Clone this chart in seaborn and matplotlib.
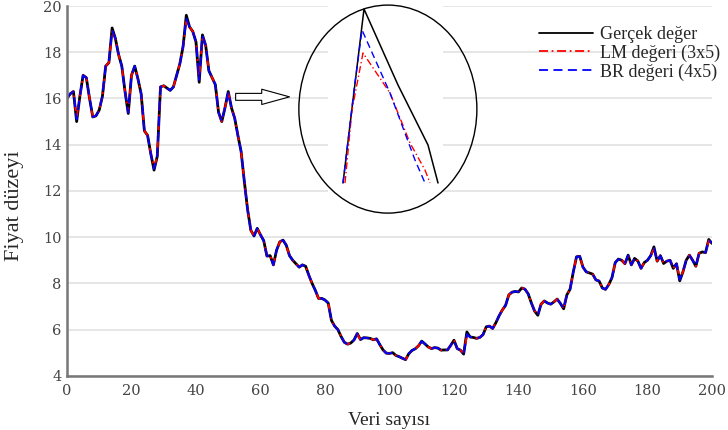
import numpy as np
import seaborn as sns
from matplotlib import pyplot as plt
from matplotlib.patches import Ellipse

veri_sayisi = np.arange(0, 201)

gercek = [16.0, 16.2, 16.3, 15.0, 16.1, 17.0, 16.9, 16.0, 15.2, 15.25,
          15.5, 16.1, 17.4, 17.55, 19.05, 18.6, 17.9, 17.4, 16.3, 15.35,
          17.0, 17.4, 16.85, 16.2, 14.6, 14.4, 13.6, 12.9, 13.5, 16.5,
          16.55, 16.45, 16.35, 16.5, 17.0, 17.5, 18.25, 19.6, 19.1, 18.9,
          18.45, 16.7, 18.75, 18.3, 17.2, 16.9, 16.6, 15.4, 15.0, 15.6,
          16.3, 15.6, 15.15, 14.4, 13.7, 12.4, 11.2, 10.3, 10.05, 10.38,
          10.1, 9.85, 9.18, 9.2, 8.8, 9.44, 9.8, 9.87, 9.65, 9.2,
          9.0, 8.85, 8.7, 8.8, 8.74, 8.35, 8.0, 7.7, 7.35, 7.35,
          7.28, 7.15, 6.4, 6.15, 6.0, 5.7, 5.45, 5.37, 5.42, 5.55,
          5.83, 5.57, 5.65, 5.64, 5.62, 5.56, 5.6, 5.35, 5.12, 4.98,
          4.97, 5.0, 4.88, 4.83, 4.76, 4.7, 4.96, 5.1, 5.17, 5.3,
          5.5, 5.38, 5.25, 5.18, 5.22, 5.2, 5.11, 5.12, 5.12, 5.32,
          5.54, 5.18, 5.11, 4.94, 5.9, 5.68, 5.66, 5.62, 5.66, 5.78,
          6.12, 6.15, 6.05, 6.3, 6.6, 6.85, 7.05, 7.5, 7.62, 7.65,
          7.63, 7.8, 7.75, 7.55, 7.15, 6.8, 6.62, 7.1, 7.24, 7.15,
          7.1, 7.2, 7.32, 7.13, 6.9, 7.5, 7.75, 8.5, 9.15, 9.17,
          8.7, 8.5, 8.45, 8.4, 8.15, 8.1, 7.8, 7.74, 7.95, 8.25,
          8.9, 9.05, 9.0, 8.85, 9.22, 8.8, 9.08, 8.97, 8.65, 8.9,
          9.0, 9.2, 9.58, 8.96, 9.2, 8.86, 8.96, 9.0, 8.65, 8.85,
          8.11, 8.5, 9.0, 9.22, 9.0, 8.74, 9.3, 9.36, 9.33, 9.9,
          9.73]

lm_degeri = [16.0, 16.2, 16.3, 15.15, 16.1, 17.0, 16.9, 16.0, 15.2, 15.25,
             15.5, 16.1, 17.4, 17.55, 18.9, 18.6, 17.9, 17.4, 16.3, 15.4,
             17.0, 17.4, 16.85, 16.2, 14.6, 14.4, 13.6, 13.0, 13.5, 16.5,
             16.55, 16.45, 16.35, 16.5, 17.0, 17.5, 18.25, 19.4, 19.1, 18.9,
             18.45, 16.85, 18.7, 18.3, 17.2, 16.9, 16.6, 15.4, 15.0, 15.6,
             16.25, 15.6, 15.15, 14.4, 13.7, 12.4, 11.2, 10.3, 10.05, 10.38,
             10.1, 9.85, 9.18, 9.2, 8.8, 9.44, 9.8, 9.87, 9.65, 9.2,
             9.0, 8.85, 8.7, 8.8, 8.74, 8.35, 8.0, 7.7, 7.35, 7.35,
             7.28, 7.15, 6.4, 6.15, 6.0, 5.7, 5.45, 5.37, 5.42, 5.55,
             5.8, 5.57, 5.65, 5.64, 5.62, 5.56, 5.6, 5.35, 5.12, 4.98,
             4.97, 5.0, 4.88, 4.83, 4.76, 4.7, 4.96, 5.1, 5.17, 5.3,
             5.5, 5.38, 5.25, 5.18, 5.22, 5.2, 5.11, 5.12, 5.12, 5.32,
             5.54, 5.18, 5.11, 4.96, 5.75, 5.68, 5.66, 5.62, 5.66, 5.78,
             6.12, 6.15, 6.05, 6.3, 6.6, 6.85, 7.05, 7.5, 7.62, 7.65,
             7.63, 7.8, 7.75, 7.55, 7.15, 6.8, 6.65, 7.1, 7.24, 7.15,
             7.1, 7.2, 7.32, 7.13, 6.9, 7.5, 7.75, 8.5, 9.15, 9.17,
             8.7, 8.5, 8.45, 8.4, 8.15, 8.1, 7.8, 7.74, 7.95, 8.25,
             8.9, 9.05, 9.0, 8.85, 9.2, 8.8, 9.08, 8.97, 8.65, 8.9,
             9.0, 9.2, 9.5, 8.96, 9.2, 8.86, 8.96, 9.0, 8.65, 8.85,
             8.2, 8.5, 9.0, 9.22, 9.0, 8.74, 9.3, 9.36, 9.33, 9.85,
             9.75]

br_degeri = [16.0, 16.2, 16.3, 15.1, 16.1, 17.0, 16.9, 16.0, 15.2, 15.25,
             15.5, 16.1, 17.4, 17.55, 18.95, 18.6, 17.9, 17.4, 16.3, 15.38,
             17.0, 17.4, 16.85, 16.2, 14.6, 14.4, 13.6, 12.95, 13.5, 16.5,
             16.55, 16.45, 16.35, 16.5, 17.0, 17.5, 18.25, 19.45, 19.1, 18.9,
             18.45, 16.8, 18.72, 18.3, 17.2, 16.9, 16.6, 15.4, 15.0, 15.6,
             16.28, 15.6, 15.15, 14.4, 13.7, 12.4, 11.2, 10.3, 10.05, 10.38,
             10.1, 9.85, 9.18, 9.2, 8.8, 9.44, 9.8, 9.87, 9.65, 9.2,
             9.0, 8.85, 8.7, 8.8, 8.74, 8.35, 8.0, 7.7, 7.35, 7.35,
             7.28, 7.15, 6.4, 6.15, 6.0, 5.7, 5.45, 5.37, 5.42, 5.55,
             5.82, 5.57, 5.65, 5.64, 5.62, 5.56, 5.6, 5.35, 5.12, 4.98,
             4.97, 5.0, 4.88, 4.83, 4.76, 4.7, 4.96, 5.1, 5.17, 5.3,
             5.5, 5.38, 5.25, 5.18, 5.22, 5.2, 5.11, 5.12, 5.12, 5.32,
             5.54, 5.18, 5.11, 4.95, 5.8, 5.68, 5.66, 5.62, 5.66, 5.78,
             6.12, 6.15, 6.05, 6.3, 6.6, 6.85, 7.05, 7.5, 7.62, 7.65,
             7.63, 7.8, 7.75, 7.55, 7.15, 6.8, 6.63, 7.1, 7.24, 7.15,
             7.1, 7.2, 7.32, 7.13, 6.9, 7.5, 7.75, 8.5, 9.15, 9.17,
             8.7, 8.5, 8.45, 8.4, 8.15, 8.1, 7.8, 7.74, 7.95, 8.25,
             8.9, 9.05, 9.0, 8.85, 9.21, 8.8, 9.08, 8.97, 8.65, 8.9,
             9.0, 9.2, 9.52, 8.96, 9.2, 8.86, 8.96, 9.0, 8.65, 8.85,
             8.15, 8.5, 9.0, 9.22, 9.0, 8.74, 9.3, 9.36, 9.33, 9.88,
             9.74]

# büyütülmüş tepe noktası (elips içindeki görünüm)
zoom_gercek_x = [15, 36, 70, 100, 110]
zoom_gercek_y = [17, 191, 115, 55, 17]
zoom_lm_x = [17, 24, 35, 62, 82, 97, 102]
zoom_lm_y = [17, 90, 147, 107, 57, 30, 17]
zoom_br_x = [15, 26, 34, 62, 87, 97]
zoom_br_y = [17, 110, 170, 107, 40, 17]

x_ticks = list(range(0, 201, 20))
y_ticks = list(range(4, 21, 2))

sns.set_style('white')
plt.rcParams['font.family'] = ['Liberation Serif', 'DejaVu Serif']

fig = plt.figure(figsize=(7.28, 4.30), dpi=100)
ax = fig.add_axes([0.092, 0.126, 0.886, 0.860])

sns.lineplot(x=veri_sayisi, y=gercek, ax=ax, color='black', linewidth=2.0,
             label='Gerçek değer')
sns.lineplot(x=veri_sayisi, y=lm_degeri, ax=ax, color='red', linewidth=1.4,
             linestyle=(0, (5, 2, 1, 2)), label='LM değeri (3x5)')
sns.lineplot(x=veri_sayisi, y=br_degeri, ax=ax, color='blue', linewidth=1.4,
             linestyle=(0, (5, 3)), label='BR değeri (4x5)')

ax.set_xlim(0, 200)
ax.set_ylim(4, 20)
ax.set_xticks(x_ticks)
ax.set_yticks(y_ticks)
ax.yaxis.grid(True, color='#e2e2e2', linewidth=1.2)
ax.set_axisbelow(True)
for s in ['top', 'right']:
    ax.spines[s].set_visible(False)
for s in ['left', 'bottom']:
    ax.spines[s].set_color('#777777')
    ax.spines[s].set_linewidth(1.8)
ax.tick_params(direction='in', length=4, width=1.2, color='#777777',
               labelsize=10.5, labelcolor='#444444')
ax.tick_params(axis='x', pad=6)
ax.tick_params(axis='y', pad=4)
for lbl in ax.get_xticklabels() + ax.get_yticklabels():
    lbl.set_fontfamily('DejaVu Serif')

ax.set_xlabel('Veri sayısı', fontsize=14)
ax.set_ylabel('Fiyat düzeyi', fontsize=16)
ax.xaxis.set_label_coords(0.5, -0.098)
ax.yaxis.set_label_coords(-0.066, 0.46)

leg = ax.legend(loc='upper right', bbox_to_anchor=(1.03, 0.975), frameon=False,
                fontsize=13, handlelength=3.0, handletextpad=0.4,
                labelspacing=0.08, borderaxespad=0.2)
for line in leg.get_lines():
    line.set_linewidth(1.3)

# ok işareti
ax.annotate('', xy=(69, 16.07), xytext=(52.3, 16.07),
            arrowprops=dict(arrowstyle='simple,head_length=2.0,head_width=1.1,tail_width=0.5',
                            fc='white', ec='black', lw=0.8, mutation_scale=10,
                            shrinkA=0, shrinkB=0))

# büyütme penceresi
ins = fig.add_axes([328 / 728, 1 - 200 / 430, 115 / 728, 200 / 430])
ins.set_facecolor('white')
ins.set_xlim(0, 115)
ins.set_ylim(0, 200)
ins.set_xticks([])
ins.set_yticks([])
for s in ins.spines.values():
    s.set_visible(False)
ins.plot(zoom_gercek_x, zoom_gercek_y, color='black', linewidth=1.1)
ins.plot(zoom_lm_x, zoom_lm_y, color='red', linewidth=1.0, linestyle=(0, (5, 2, 1, 2)))
ins.plot(zoom_br_x, zoom_br_y, color='blue', linewidth=1.0, linestyle=(0, (5, 3)))
ins.add_patch(Ellipse((99.5, 15.54), 55.2, 9.0, transform=ax.transData,
                      fill=False, ec='black', lw=1.0, clip_on=False))

plt.savefig('out.png', dpi=100)
